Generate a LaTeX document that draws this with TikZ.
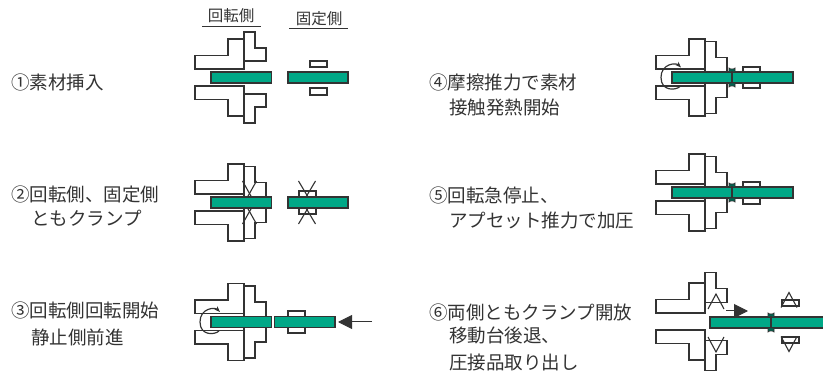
\documentclass[tikz,border=0pt]{standalone}
\usepackage{fontspec}
\setmainfont{Noto Sans CJK JP}
\usepackage{xcolor}
\usetikzlibrary{arrows.meta}
\definecolor{stockgreen}{HTML}{00A887}
\definecolor{inkgray}{HTML}{333333}
\tikzset{
    part/.style={draw=inkgray, line width=1.3pt, fill=white},
    stock/.style={draw=inkgray, line width=1.1pt, fill=stockgreen},
    txt/.style={anchor=west, inner sep=0pt, text=inkgray, font=\fontsize{18.5}{20}\selectfont},
    head/.style={anchor=center, inner sep=0pt, text=inkgray, font=\fontsize{15.5}{18}\selectfont},
    push/.style={inkgray, line width=1pt, -{Triangle[length=14pt,width=14pt]}},
    pics/rotor/.style={code={
        \foreach \s in {1,-1}{
            \draw[part, yscale=\s] (0,-8.5) -- (-49,-8.5) -- (-49,-22) -- (-16,-22) -- (-16,-38.5) -- (0,-38.5) -- cycle;
        }
    }},
    pics/jaws/.style args={#1/#2/#3}{code={
        \foreach \s in {1,-1}{
            \draw[part, yscale=\s] (0,-#1) -- (22,-#1) -- (22,-#2) -- (11,-#2) -- (11,-#3) -- (0,-#3) -- cycle;
        }
    }},
    pics/spin/.style={code={
        \draw[inkgray, line width=1.2pt, -{Stealth[length=6pt]}] (-25,9) .. controls (-29,13) and (-44,14) .. (-44,0) .. controls (-44,-14) and (-29,-15) .. (-24,-10);
    }},
    pics/flash/.style={code={
        \foreach \s in {1,-1}{
            \draw[inkgray, line width=.8pt, fill=stockgreen!60!black, yscale=\s] (-3,-9.5) -- (-1.5,-8.5) -- (1.5,-8.5) -- (3,-9.5) -- (3,-5.5) -- (-3,-5.5) -- cycle;
        }
        \draw[inkgray, line width=1.2pt] (0,-6) -- (0,6);
    }},
    pics/grips/.style args={#1/#2}{code={
        \foreach \s in {1,-1}{
            \draw[inkgray, line width=1.1pt, yscale=\s] (-#1,-21.5) -- (#2,-5.5);
            \draw[inkgray, line width=1.1pt, yscale=\s] (#1,-21.5) -- (-#2,-5.5);
        }
    }},
    pics/wedge/.style={code={
        \draw[inkgray, line width=1.1pt] (-8,7.5) -- (0,-7.5) -- (8,7.5);
    }},
}
\begin{document}
\begin{tikzpicture}[x=1pt, y=-1pt]
        \useasboundingbox (0,0) rectangle (823,374);

        %TITLES
        \node[head] (rothead) at (231,16) {回転側};
        \node[head] (fixhead) at (319,19) {固定側};
        \draw[inkgray, line width=1pt] (202,26.5) -- (261,26.5);
        \draw[inkgray, line width=1pt] (289,29) -- (348,29);

        %TEXT
        \node[txt] (step1) at (11,82) {①素材挿入};
        \node[txt] (step2) at (11,194) {②回転側、固定側};
        \node[txt] (step2b) at (31,218) {ともクランプ};
        \node[txt] (step3) at (11,310) {③回転側回転開始};
        \node[txt] (step3b) at (31,337) {静止側前進};
        \node[txt] (step4) at (429,82) {④摩擦推力で素材};
        \node[txt] (step4b) at (449,108) {接触発熱開始};
        \node[txt] (step5) at (429,195) {⑤回転急停止、};
        \node[txt] (step5b) at (449,220) {アプセット推力で加圧};
        \node[txt] (step6) at (429,312) {⑥両側ともクランプ開放};
        \node[txt] (step6b) at (449,335) {移動台後退、};
        \node[txt] (step6c) at (449,362) {圧接品取り出し};

        %STEP 1
        \pic at (244,77.5) {rotor};
        \pic at (244,77.5) {jaws=16.5/29.5/45.5};
        \draw[stock] (211,72) rectangle (271.5,83);
        \draw[stock] (288,72) rectangle (348,83);
        \draw[part] (310,61) rectangle (327,67);
        \draw[part] (310,88) rectangle (327,95);

        %STEP 2
        \pic at (244,202.5) {rotor};
        \pic at (244,202.5) {jaws=5.5/20/36};
        \pic at (249.5,202.5) {grips=7/2};
        \draw[part] (299,191) rectangle (316,214);
        \pic at (307,202.5) {grips=8.5/1};
        \draw[stock] (211,197) rectangle (271.5,208);
        \draw[stock] (288,197) rectangle (348,208);

        %STEP 3
        \pic at (244,322) {rotor};
        \pic at (244,322) {jaws=5.5/20/36};
        \pic at (244,322) {spin};
        \draw[part] (288,311) rectangle (305,333);
        \draw[stock] (211,316.5) rectangle (271.5,327.5);
        \draw[stock] (274.5,316.5) rectangle (335,327.5);
        \coordinate (push3a) at (372,322);
        \coordinate (push3b) at (338,322);
        \draw[push] (push3a) -- (push3b);

        %STEP 4
        \pic at (705,77.5) {rotor};
        \pic at (705,77.5) {jaws=5.5/20/36};
        \pic at (705,77.5) {spin};
        \draw[part] (743,67) rectangle (760,88);
        \draw[stock] (672,72) rectangle (793,83);
        \pic at (732,77.5) {flash};

        %STEP 5
        \pic at (705,192.5) {rotor};
        \pic at (705,192.5) {jaws=5.5/20/36};
        \draw[part] (743,182) rectangle (760,204);
        \draw[stock] (672,187) rectangle (793,198);
        \pic at (732,192.5) {flash};

        %STEP 6
        \pic at (705,321.5) {rotor};
        \pic at (705,321.5) {jaws=19/33/49};
        \pic at (716,301.5) {wedge};
        \pic[yscale=-1] at (716,344.5) {wedge};
        \draw[part] (782,300) rectangle (799,306);
        \draw[part] (782,337) rectangle (799,343);
        \pic at (789,300) {wedge};
        \pic[yscale=-1] at (789,344) {wedge};
        \draw[stock] (710,317) rectangle (830,328);
        \pic at (771,322.5) {flash};
        \coordinate (push6a) at (726,311);
        \coordinate (push6b) at (748,311);
        \draw[push] (push6a) -- (push6b);
    \end{tikzpicture}
\end{document}
